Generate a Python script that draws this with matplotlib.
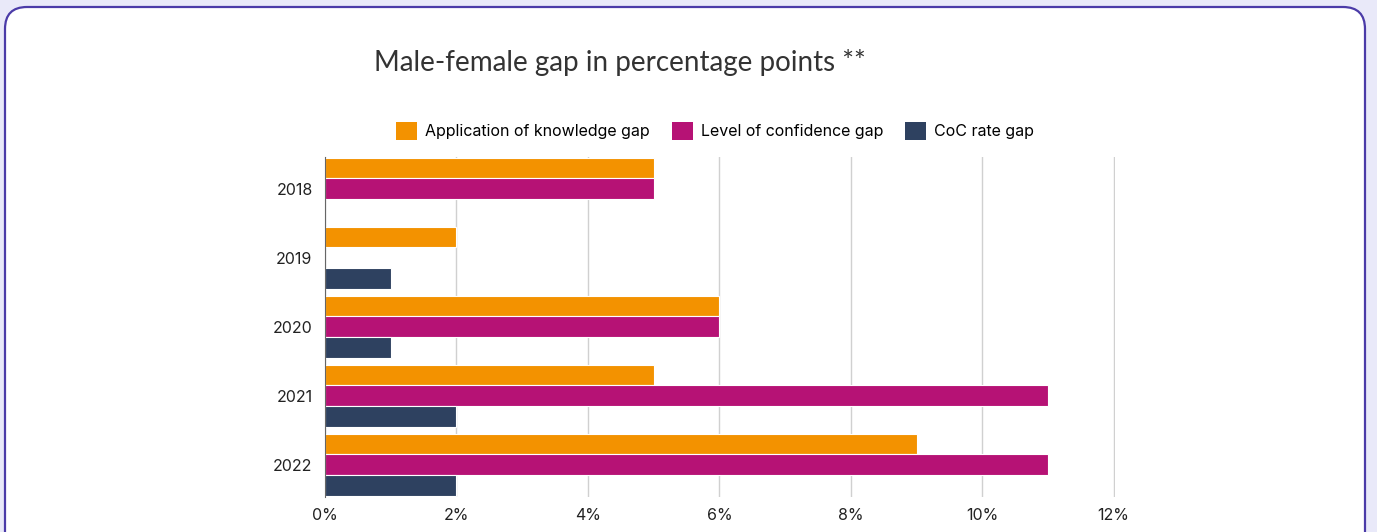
import numpy as np
import matplotlib
matplotlib.use("Agg")
from matplotlib import pyplot as plt
from matplotlib.patches import FancyBboxPatch, Patch
from matplotlib.ticker import FuncFormatter

years = ["2018", "2019", "2020", "2021", "2022"]
knowledge_gap = [5, 2, 6, 5, 9]
confidence_gap = [5, 0, 6, 11, 11]
coc_gap = [0, 1, 1, 2, 2]

series_names = ["Application of knowledge gap", "Level of confidence gap", "CoC rate gap"]
colors = ["#F39200", "#B61275", "#2E4160"]

plt.rcParams["font.family"] = ["Inter", "DejaVu Sans"]

W, H = 1377, 532
fig = plt.figure(figsize=(W / 100, H / 100), dpi=100)
fig.patch.set_facecolor("#E9E9F9")

# white card with rounded purple border, drawn in pixel units
bg = fig.add_axes([0, 0, 1, 1], zorder=-1)
bg.set_xlim(0, W)
bg.set_ylim(H, 0)
bg.axis("off")
card = FancyBboxPatch((5, 7), 1360, 580, boxstyle="round,pad=0,rounding_size=22",
                      facecolor="white", edgecolor="#4B3BA8", linewidth=1.6)
bg.add_patch(card)

ax = fig.add_axes([325 / W, 1 - 497 / H, 790 / W, 340 / H])
ax.set_facecolor("none")

y = np.arange(len(years))
h = 0.3
for i, (vals, c) in enumerate(zip([knowledge_gap, confidence_gap, coc_gap], colors)):
    ax.barh(y + (i - 1) * h, vals, height=h, color=c, edgecolor="white", linewidth=0.8, zorder=3)

ax.set_xlim(0, 12.02)
ax.set_ylim(len(years) - 1 + 0.47, -0.46)
ax.set_xticks(range(0, 13, 2))
ax.xaxis.set_major_formatter(FuncFormatter(lambda v, p: f"{int(v)}%"))
ax.set_yticks(y)
ax.set_yticklabels(years)
ax.tick_params(length=0, labelsize=11.5, colors="#222222")
ax.tick_params(axis="y", pad=9)
ax.tick_params(axis="x", pad=8)
ax.grid(axis="x", color="#D0D0D0", linewidth=1, zorder=0)
for s in ["top", "right", "bottom"]:
    ax.spines[s].set_visible(False)
ax.spines["left"].set_color("#666666")
ax.spines["left"].set_linewidth(0.8)
ax.spines["left"].set_zorder(4)

fig.text(620 / W, 1 - 63 / H, "Male-female gap in percentage points **", ha="center", va="center",
         fontsize=20, color="#333333", family=["Lato", "DejaVu Sans"])

handles = [Patch(facecolor=c, edgecolor="none") for c in colors]
fig.legend(handles, series_names, loc="center", bbox_to_anchor=(715 / W, 1 - 131 / H), ncol=3,
           frameon=False, fontsize=11.5, handlelength=1.3, handleheight=1.3,
           columnspacing=1.4, handletextpad=0.5)

fig.savefig("out.png", dpi=100, facecolor=fig.get_facecolor())
